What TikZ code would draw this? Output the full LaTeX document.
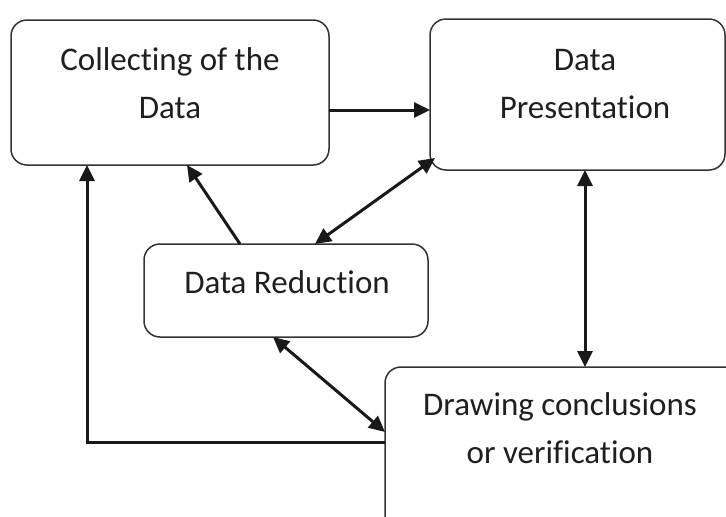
\documentclass[tikz,border=0pt]{standalone}
\usepackage{fontspec}
\setmainfont{Carlito}[Ligatures={NoCommon}]
\usetikzlibrary{arrows.meta}
\begin{document}
\begin{tikzpicture}[x=1pt,y=-1pt,
  box/.style={draw=black!80, line width=1.5pt, rounded corners=16pt},
  lbl/.style={align=center, inner sep=0pt, font=\fontsize{33}{48}\selectfont, text=black!88},
  tip/.style={Triangle[length=16pt,width=15pt]},
  conn/.style={draw=black!90, line width=3pt, -{Triangle[length=16pt,width=15pt]}},
  dconn/.style={draw=black!90, line width=3pt, {Triangle[length=16pt,width=15pt]}-{Triangle[length=16pt,width=15pt]}}]
\useasboundingbox (0,0) rectangle (726,517);
\begin{scope}
\clip (0,0) rectangle (726,517);
% boxes
\draw[box] (11,20) rectangle (329,165);
\draw[box] (430,19) rectangle (725,170);
\draw[box] (144,244) rectangle (428,337);
\draw[box] (385,367) rectangle (745,540);
% named anchors
\coordinate (c1r) at (329,110);
\coordinate (c2l) at (430,110);
\coordinate (c3t1) at (240,244);
\coordinate (c1b1) at (187,165);
\coordinate (c3t2) at (315,244);
\coordinate (c2c) at (435,158);
\coordinate (c2b) at (585,170);
\coordinate (c4t) at (585,367);
\coordinate (c3b) at (273,337);
\coordinate (c4l1) at (385,432);
\coordinate (c4l2) at (385,442);
\coordinate (c1b2) at (87,165);
\coordinate (corner) at (87,442);
% labels
\node[lbl, anchor=base] (t1) at (170,118) {Collecting of the\\Data};
\node[lbl, anchor=base] (t2) at (585,118) {Data\\Presentation};
\node[lbl, anchor=base] (t3) at (287,293) {Data Reduction};
\node[lbl, anchor=base] (t4) at (560,463) {Drawing conclusions\\or verification};
% connectors
\draw[conn] (c1r) -- (c2l);
\draw[conn] (c3t1) -- (c1b1);
\draw[dconn] (c3t2) -- (c2c);
\draw[dconn] (c2b) -- (c4t);
\draw[dconn] (c3b) -- (c4l1);
\draw[conn] (c4l2) -- (corner) -- (c1b2);
\end{scope}
\end{tikzpicture}
\end{document}
